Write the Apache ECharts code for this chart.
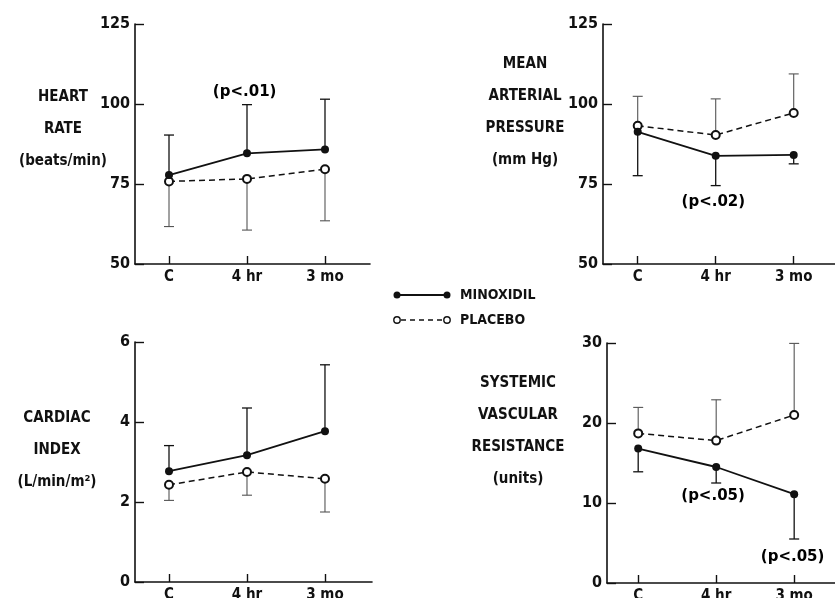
<!DOCTYPE html>
<html>
<head>
<meta charset="utf-8">
<script src="https://cdn.jsdelivr.net/npm/echarts@6/dist/echarts.min.js"></script>
<style>
html,body{margin:0;padding:0;background:#fff;}
#chart{width:835px;height:598px;}
</style>
</head>
<body>
<div id="chart"></div>
<script>
// ---- data ----
const categories = ['C', '4 hr', '3 mo'];
const catPos = [0, 1, 2];

// Heart rate (beats/min)
const hrMinox = [77.8, 84.6, 85.8];
const hrMinoxErr = [90.3, 99.8, 101.5];
const hrPlac = [75.8, 76.6, 79.6];
const hrPlacErr = [61.7, 60.6, 63.5];

// Mean arterial pressure (mm Hg)
const mapMinox = [91.3, 83.8, 84.1];
const mapMinoxErr = [77.6, 74.5, 81.3];
const mapPlac = [93.2, 90.3, 97.2];
const mapPlacErr = [102.4, 101.6, 109.4];

// Cardiac index (L/min/m2)
const ciMinox = [2.77, 3.17, 3.77];
const ciMinoxErr = [3.41, 4.35, 5.43];
const ciPlac = [2.43, 2.75, 2.58];
const ciPlacErr = [2.04, 2.17, 1.75];

// Systemic vascular resistance (units)
const svrMinox = [16.8, 14.5, 11.1];
const svrMinoxErr = [13.9, 12.5, 5.5];
const svrPlac = [18.7, 17.8, 21.0];
const svrPlacErr = [21.95, 22.9, 29.95];

// y axis ranges / ticks
const yMin = [50, 50, 0, 0];
const yMax = [125, 125, 6, 30];
const yStep = [25, 25, 2, 10];

// panel titles
const panelTitles = [
  'HEART\nRATE\n(beats/min)',
  'MEAN\nARTERIAL\nPRESSURE\n(mm Hg)',
  'CARDIAC\nINDEX\n(L/min/m²)',
  'SYSTEMIC\nVASCULAR\nRESISTANCE\n(units)'
];

// significance annotations (data coordinates)
const pText = ['(p<.01)', '(p<.02)', '(p<.05)', '(p<.05)'];
const pPanel = [0, 1, 3, 3];
const pX = [0.97, 0.97, 0.96, 1.98];
const pY = [103.8, 69.2, 10.8, 3.2];

const legendNames = ['MINOXIDIL', 'PLACEBO'];

// ---- layout ----
const F = '"DejaVu Sans Condensed", "Liberation Sans Narrow", sans-serif';
const grids = [
  {left: 135, top: 24, width: 235, height: 240},
  {left: 603, top: 24, width: 240, height: 240},
  {left: 135, top: 342, width: 237, height: 240},
  {left: 607, top: 343, width: 236, height: 240}
];
const xRange = [
  [-0.436, 2.577],
  [-0.445, 2.632],
  [-0.436, 2.603],
  [-0.40, 2.626]
];
const titlePos = [[63, 129], [525, 112], [57, 450], [518, 431]];

const minoxSets = [hrMinox, mapMinox, ciMinox, svrMinox];
const minoxErrSets = [hrMinoxErr, mapMinoxErr, ciMinoxErr, svrMinoxErr];
const placSets = [hrPlac, mapPlac, ciPlac, svrPlac];
const placErrSets = [hrPlacErr, mapPlacErr, ciPlacErr, svrPlacErr];

function pts(vals) { return catPos.map((x, i) => [x, vals[i]]); }
function errPts(vals, ends) { return catPos.map((x, i) => [x, vals[i], ends[i]]); }

function makeErr(color, width) {
  return function (params, api) {
    const x = api.value(0), m = api.value(1), e = api.value(2);
    const p1 = api.coord([x, m]);
    const p2 = api.coord([x, e]);
    const hw = 5;
    return {
      type: 'group',
      children: [
        {type: 'line', shape: {x1: p1[0], y1: p1[1], x2: p2[0], y2: p2[1]}, style: {stroke: color, lineWidth: width}},
        {type: 'line', shape: {x1: p2[0] - hw, y1: p2[1], x2: p2[0] + hw, y2: p2[1]}, style: {stroke: color, lineWidth: width}}
      ]
    };
  };
}

const xAxes = [], yAxes = [], series = [];
grids.forEach((g, i) => {
  xAxes.push({
    gridIndex: i, type: 'value', min: xRange[i][0], max: xRange[i][1],
    splitLine: {show: false},
    axisLine: {show: true, onZero: false, lineStyle: {color: '#111', width: 1.6}},
    axisTick: {show: true, inside: true, length: 8, customValues: catPos, lineStyle: {color: '#111', width: 1.4}},
    axisLabel: {
      show: true, customValues: catPos, margin: 6,
      formatter: v => categories[Math.round(v)],
      fontFamily: F, fontWeight: 'bold', fontSize: 15, color: '#111'
    }
  });
  yAxes.push({
    gridIndex: i, type: 'value', min: yMin[i], max: yMax[i], interval: yStep[i],
    splitLine: {show: false},
    axisLine: {show: true, onZero: false, lineStyle: {color: '#111', width: 1.6}},
    axisTick: {show: true, inside: true, length: 9, lineStyle: {color: '#111', width: 1.4}},
    axisLabel: {show: true, margin: 5, fontFamily: F, fontWeight: 'bold', fontSize: 16, color: '#111'}
  });

  series.push({
    type: 'custom', xAxisIndex: i, yAxisIndex: i, z: 2,
    renderItem: makeErr('#111', 1.3), encode: {x: 0, y: [1, 2]},
    data: errPts(minoxSets[i], minoxErrSets[i]), silent: true
  });
  series.push({
    type: 'custom', xAxisIndex: i, yAxisIndex: i, z: 2,
    renderItem: makeErr('#555', 1.1), encode: {x: 0, y: [1, 2]},
    data: errPts(placSets[i], placErrSets[i]), silent: true
  });
  series.push({
    name: legendNames[1], type: 'line', xAxisIndex: i, yAxisIndex: i, z: 3,
    data: pts(placSets[i]), symbol: 'emptyCircle', symbolSize: 8,
    lineStyle: {color: '#111', width: 1.5, type: [6, 4]},
    itemStyle: {color: '#111', borderWidth: 1.6},
    animation: false
  });
  series.push({
    name: legendNames[0], type: 'line', xAxisIndex: i, yAxisIndex: i, z: 4,
    data: pts(minoxSets[i]), symbol: 'circle', symbolSize: 8,
    lineStyle: {color: '#111', width: 1.8},
    itemStyle: {color: '#111'},
    animation: false
  });
  const ann = [];
  pText.forEach((t, k) => { if (pPanel[k] === i) ann.push({value: [pX[k], pY[k]], name: t}); });
  if (ann.length) {
    series.push({
      type: 'scatter', xAxisIndex: i, yAxisIndex: i, z: 5,
      data: ann, symbolSize: 0, itemStyle: {color: '#111', opacity: 1},
      label: {show: true, position: 'inside', formatter: p => p.name, opacity: 1,
        textBorderWidth: 0, fontFamily: '"DejaVu Sans", sans-serif', fontWeight: 'bold',
        fontSize: 15, color: '#000'},
      emphasis: {disabled: true},
      silent: true, animation: false
    });
  }
});

const graphics = [];
panelTitles.forEach((t, i) => {
  graphics.push({
    type: 'text', x: titlePos[i][0], y: titlePos[i][1],
    style: {text: t, fontFamily: F, fontWeight: 'bold', fontSize: 15, lineHeight: 32,
      fill: '#111', align: 'center', verticalAlign: 'middle'}
  });
});
// legend
graphics.push({type: 'line', shape: {x1: 397, y1: 295, x2: 447, y2: 295}, style: {stroke: '#111', lineWidth: 1.8}});
graphics.push({type: 'circle', shape: {cx: 397, cy: 295, r: 3.5}, style: {fill: '#111'}});
graphics.push({type: 'circle', shape: {cx: 447, cy: 295, r: 3.5}, style: {fill: '#111'}});
graphics.push({type: 'line', shape: {x1: 401, y1: 320, x2: 443, y2: 320}, style: {stroke: '#111', lineWidth: 1.5, lineDash: [5, 4]}});
graphics.push({type: 'circle', shape: {cx: 397, cy: 320, r: 3.2}, style: {fill: '#fff', stroke: '#111', lineWidth: 1.4}});
graphics.push({type: 'circle', shape: {cx: 447, cy: 320, r: 3.2}, style: {fill: '#fff', stroke: '#111', lineWidth: 1.4}});
graphics.push({type: 'text', x: 460, y: 295, style: {text: legendNames[0], fontFamily: F, fontWeight: 'bold', fontSize: 14, fill: '#111', align: 'left', verticalAlign: 'middle'}});
graphics.push({type: 'text', x: 460, y: 320, style: {text: legendNames[1], fontFamily: F, fontWeight: 'bold', fontSize: 14, fill: '#111', align: 'left', verticalAlign: 'middle'}});

const chart = echarts.init(document.getElementById('chart'), null, {renderer: 'canvas'});
chart.setOption({
  backgroundColor: '#fff',
  animation: false,
  grid: grids.map(g => Object.assign({containLabel: false, outerBoundsMode: 'none'}, g)),
  xAxis: xAxes,
  yAxis: yAxes,
  series: series,
  graphic: graphics
});
</script>
</body>
</html>
